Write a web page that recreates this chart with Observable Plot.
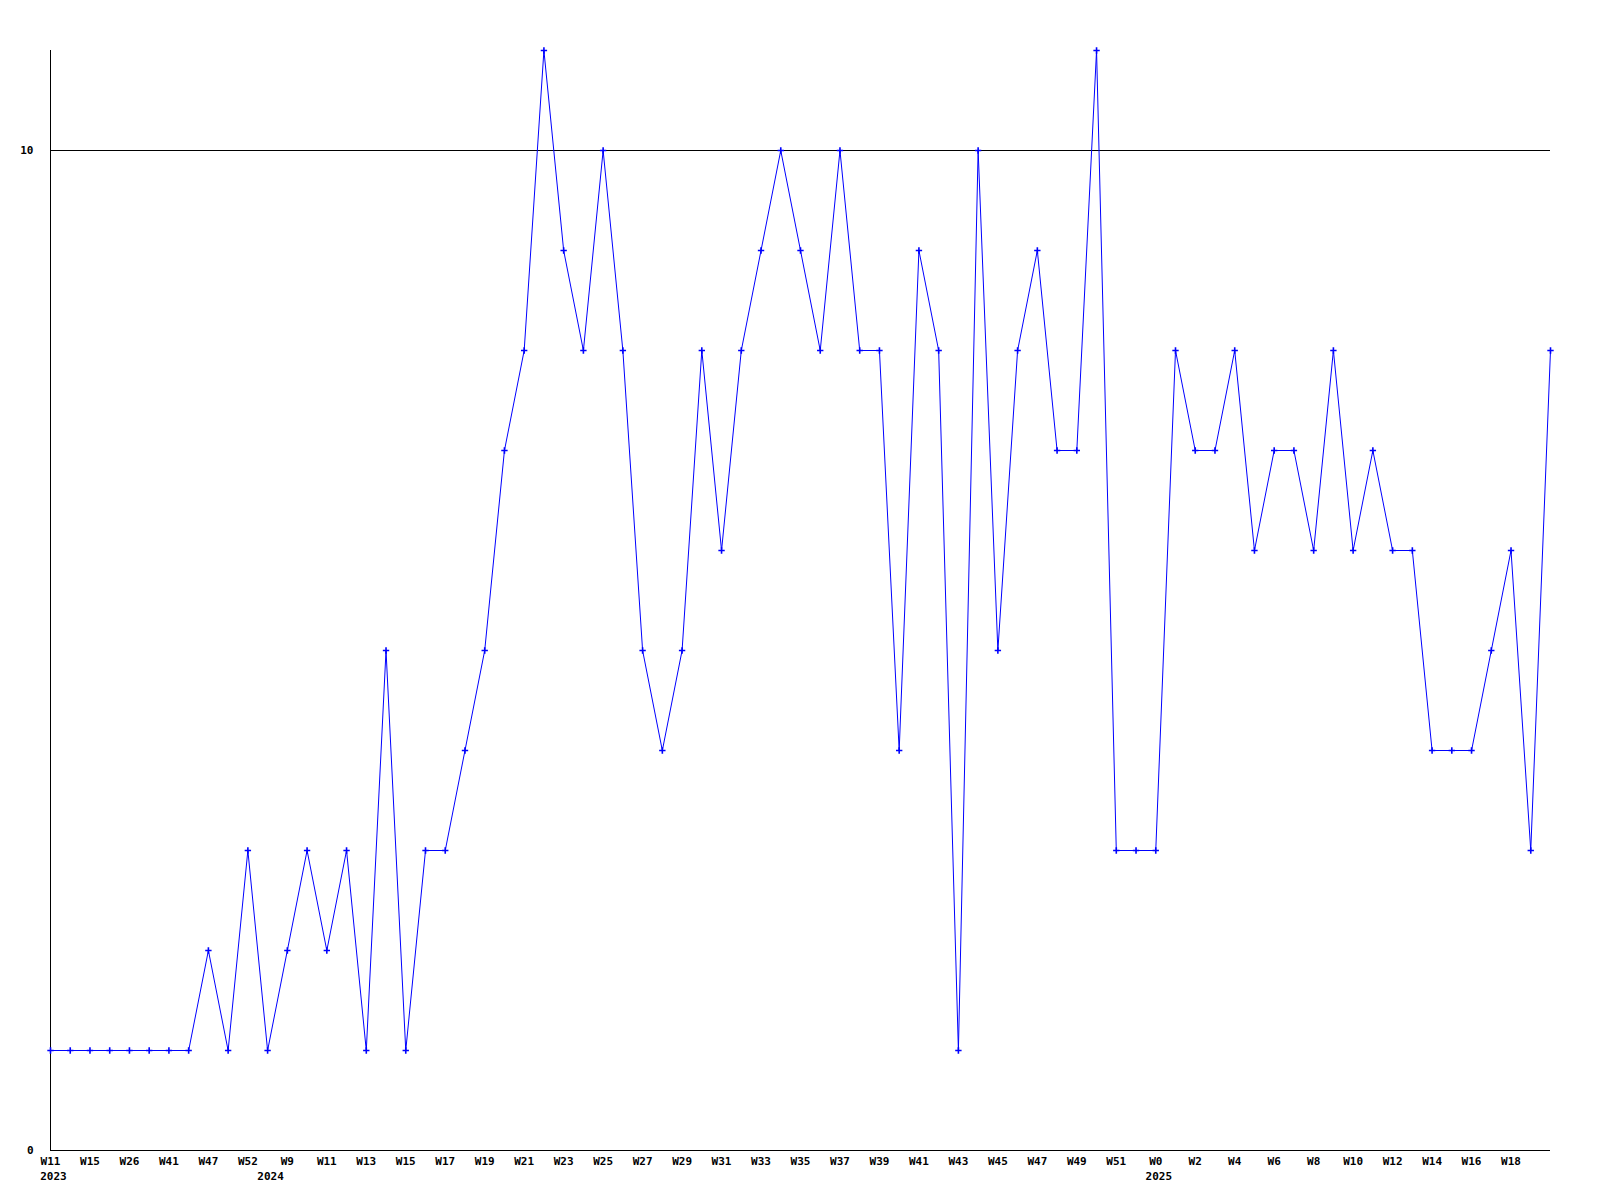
<!DOCTYPE html>
<html>
<head>
<meta charset="utf-8">
<script src="https://cdn.jsdelivr.net/npm/d3@7"></script>
<script src="https://cdn.jsdelivr.net/npm/@observablehq/plot@0.6"></script>
<style>
  html, body { margin: 0; padding: 0; background: #fff; }
  #chart svg { display: block; }
</style>
</head>
<body>
<div id="chart"></div>
<script>
// Week labels for each point (77 points)
const weeks = [
  "W11","W13","W15","W20","W26","W33","W41","W44","W47","W49",
  "W52","W1","W9","W10","W11","W12","W13","W14","W15","W16",
  "W17","W18","W19","W20","W21","W22","W23","W24","W25","W26",
  "W27","W28","W29","W30","W31","W32","W33","W34","W35","W36",
  "W37","W38","W39","W40","W41","W42","W43","W44","W45","W46",
  "W47","W48","W49","W50","W51","W52","W0","W1","W2","W3",
  "W4","W5","W6","W7","W8","W9","W10","W11","W12","W13",
  "W14","W15","W16","W17","W18","W19","W20"
];
// Year labels, shown under the first point of each year (by point index)
const yearIndex = [0, 11, 56];
const yearLabels = ["2023", "2024", "2025"];
// Series values
const values = [
  1,1,1,1,1,1,1,1,2,1,
  3,1,2,3,2,3,1,5,1,3,
  3,4,5,7,8,11,9,8,10,8,
  5,4,5,8,6,8,9,10,9,8,
  10,8,8,4,9,8,1,10,5,8,
  9,7,7,11,3,3,3,8,7,7,
  8,6,7,7,6,8,6,7,6,6,
  4,4,4,5,6,3,8
];
const yTicks = [0, 10];

const data = values.map((v, i) => ({i, v}));
const labeled = weeks.map((w, i) => i).filter(i => i % 2 === 0 && i < 76);
const weekText = labeled.map(i => ({i, label: weeks[i]}));
const yearText = yearIndex.map((i, k) => ({i, label: yearLabels[k]}));

const font = "'DejaVu Sans Mono', 'Liberation Mono', monospace";

const chart = Plot.plot({
  width: 1600,
  height: 1200,
  marginLeft: 50,
  marginRight: 50,
  marginTop: 50,
  marginBottom: 50,
  style: {fontFamily: font, fontSize: "11px", fontWeight: "bold", background: "#fff", color: "#000"},
  x: {type: "point", domain: data.map(d => d.i), padding: 0, axis: null},
  y: {domain: [0, 11], axis: null},
  marks: [
    Plot.ruleY(yTicks.filter(t => t > 0), {stroke: "#000", strokeWidth: 1, shapeRendering: "crispEdges"}),
    Plot.ruleY([0], {stroke: "#000", strokeWidth: 1.5, shapeRendering: "crispEdges"}),
    Plot.ruleX([0], {y1: 0, y2: 11, stroke: "#000", strokeWidth: 1, shapeRendering: "crispEdges"}),
    Plot.text(yTicks, {x: 0, y: d => d, text: d => String(d), textAnchor: "end", dx: -17, fill: "#000", fontWeight: "bold"}),
    Plot.text(weekText, {x: "i", y: 0, text: "label", lineAnchor: "top", dy: 7, fill: "#000", fontWeight: "bold"}),
    Plot.text(yearText, {x: "i", y: 0, text: "label", lineAnchor: "top", dy: 22, dx: 3, fill: "#000", fontWeight: "bold"}),
    Plot.line(data, {x: "i", y: "v", stroke: "#0000ff", strokeWidth: 1, curve: "linear"}),
    Plot.dot(data, {x: "i", y: "v", symbol: "plus", r: 2.2, stroke: "#0000ff", strokeWidth: 1.6})
  ]
});
document.getElementById("chart").appendChild(chart);
</script>
</body>
</html>
